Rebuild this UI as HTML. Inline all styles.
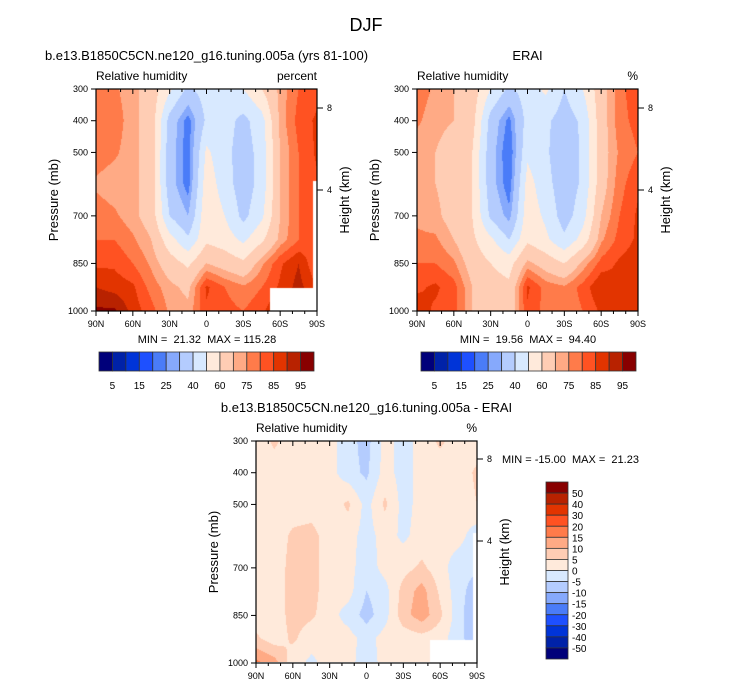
<!DOCTYPE html>
<html><head><meta charset="utf-8">
<style>
body{margin:0;background:#fff;width:733px;height:686px;overflow:hidden;position:relative;font-family:"Liberation Sans",sans-serif}
canvas{position:absolute}
svg{position:absolute;left:0;top:0}
text{white-space:pre}
</style></head>
<body>
<canvas id="c1" width="221" height="222" style="left:96px;top:89px"></canvas>
<canvas id="c2" width="221" height="222" style="left:417px;top:89px"></canvas>
<canvas id="c3" width="221" height="221" style="left:256px;top:441px"></canvas>
<svg id="s" width="733" height="686"></svg>
<script>
const lats=[90,75,60,45,30,15,0,-15,-30,-45,-60,-75,-90];
const levels=[300,400,500,600,700,775,850,925,1000];
const modelRH=[
[80,76,72,66,52,38,45,45,50,60,72,80,83],
[80,78,72,66,36,22,42,44,37,46,72,82,86],
[78,76,72,66,34,21.5,52,43,35,44,70,80,86],
[74,72,72,66,34,22,56,45,34,44,70,80,84],
[78,76,72,66,40,30,58,50,37,48,70,80,86],
[80,80,76,70,54,42,58,55,48,58,72,80,84],
[84,84,80,74,65,58,70,66,62,74,84,90,80],
[90,88,86,78,72,68,86,80,76,80,86,92,85],
[96,96,88,82,74,72,84,82,80,84,90,90,90]];
const eraiRH=[
[78,74,70,66,50,38,45,52,40,50,66,78,84],
[76,72,70,64,36,23,44,42,35,42,66,78,82],
[72,70,66,60,34,19.6,48,42,31,42,66,76,80],
[72,70,66,60,34,21,54,44,33,42,66,78,84],
[74,72,66,60,38,27,56,48,35,46,70,80,86],
[76,76,70,62,52,40,58,52,42,54,74,82,86],
[80,80,76,66,60,56,72,66,60,72,82,86,88],
[84,86,82,70,64,62,86,78,76,82,90,86,90],
[88,84,82,70,66,64,84,78,76,80,86,88,90]];
const diffRH=[
[2,6,2,2,2,-3,-7,2,-2,2,6,2,2],
[2,2,2,2,2,-3,-6,2,-2,2,2,2,6],
[2,2,2,2,2,6,-2,6,-2,2,2,2,5],
[2,2,6,7,2,2,-2,2,-1,2,2,2,-3],
[2,2,7,7,2,2,-3,2,3,6,2,-3,-4],
[2,2,7,7,2,2,-5,-2,7,12,4,-3,-8],
[2,2,7,6,2,-2,-7,-2,8,13,6,-3,-10],
[6,2,6,2,2,2,-2,2,2,3,2,-3,-10],
[16,12,2,-1,2,2,-3,2,2,2,2,2,2]];
const rhBounds=[5,10,15,20,25,30,40,50,60,70,75,80,85,90,95];
const rhLabels=["5","15","25","40","60","75","85","95"];
const dBounds=[-50,-40,-30,-20,-15,-10,-5,0,5,10,15,20,30,40,50];
const dLabels=["50","40","30","20","15","10","5","0","-5","-10","-15","-20","-30","-40","-50"];
const pTicks=[300,400,500,700,850,1000];
const latTicks=["90N","60N","30N","0","30S","60S","90S"];
const colors=["#00007a","#0022a8","#0034d8","#1e50ff","#4a7cf8","#86a9fc","#b4ccfe","#d8e9ff","#ffeadb","#ffcdb4","#ffaa85","#ff7b4a","#ff5222","#e23400","#b82200","#880000"];

function colorFor(v,b){let i=0;while(i<b.length&&v>=b[i])i++;return colors[i];}
function interp(data,lat,p){
  let fx=(90-lat)/15, i=Math.min(11,Math.floor(fx)), tx=fx-i;
  let j=0;while(j<levels.length-2&&p>levels[j+1])j++;
  let ty=(p-levels[j])/(levels[j+1]-levels[j]);
  const a=data[j][i],b=data[j][i+1],c=data[j+1][i],d=data[j+1][i+1];
  return (a*(1-tx)+b*tx)*(1-ty)+(c*(1-tx)+d*tx)*ty;
}
function drawField(id,data,bounds,missing){
  const cv=document.getElementById(id),ctx=cv.getContext('2d');
  const W=cv.width,H=cv.height;
  for(let y=0;y<H;y++)for(let x=0;x<W;x++){
    const lat=90-180*(x+0.5)/W,p=300+700*(y+0.5)/H;
    ctx.fillStyle=colorFor(interp(data,lat,p),bounds);ctx.fillRect(x,y,1,1);
  }
  if(missing){ctx.fillStyle="#fff";ctx.fillRect(174,199,47,23);ctx.fillRect(217,92,4,110);}
}
drawField('c1',modelRH,rhBounds,true);
drawField('c2',eraiRH,rhBounds,false);
drawField('c3',diffRH,dBounds,true);

const S=document.getElementById('s'),NS="http://www.w3.org/2000/svg";
function el(tag,attrs,txt){const e=document.createElementNS(NS,tag);for(const k in attrs)e.setAttribute(k,attrs[k]);if(txt!==undefined)e.textContent=txt;S.appendChild(e);return e;}
function T(x,y,s,t,anchor,name,rot){const a={x:x,y:y,'font-size':s,'text-anchor':anchor||'start',fill:'#000'};if(rot)a.transform=`rotate(-90 ${x} ${y})`;const e=el('text',a,t);return e;}

T(366,31,18,"DJF","middle","main-title");
function panel(x0,y0,title,unit,hx){
  const W=221,H=222;
  const xs=v=>x0+(90-v)/180*W, ys=p=>y0+(p-300)/700*H;
  const fr=el('rect',{x:x0,y:y0,width:W,height:H,fill:'none',stroke:'#000','stroke-width':1.2});
  
  T(x0+W/2,y0-29,13,title,"middle","panel-title");
  T(x0,y0-9,12,"Relative humidity","start","variable-label");
  T(x0+W,y0-9,12,unit,"end","units-label");
  pTicks.forEach(p=>{const y=ys(p);el('line',{x1:x0-5,x2:x0,y1:y,y2:y,stroke:'#000'});T(x0-8,y+3,9,p,"end","pressure-tick-label");});
  for(let v=90;v>=-90;v-=10){const x=xs(v),maj=v%30==0;
    el('line',{x1:x,x2:x,y1:y0+H,y2:y0+H+(maj?5:3),stroke:'#000'});
    el('line',{x1:x,x2:x,y1:y0,y2:y0+(maj?5:3),stroke:'#000'});}
  latTicks.forEach((t,i)=>T(xs(90-30*i),y0+H+16,9,t,"middle","latitude-tick-label"));
  [[8,hx[0]],[4,hx[1]]].forEach(([h,y])=>{el('line',{x1:x0+W,x2:x0+W+6,y1:y,y2:y,stroke:'#000'});T(x0+W+10,y+3,9,h,"start","height-tick-label");});
  T(x0-38,y0+H/2,13,"Pressure (mb)","middle","y-axis-title",true);
  T(x0+W+32,y0+H/2,13,"Height (km)","middle","height-axis-title",true);
}
panel(96,89,"b.e13.B1850C5CN.ne120_g16.tuning.005a (yrs 81-100)","percent",[108,190]);
panel(417,89,"ERAI","%",[108,190]);
panel(256,441,"b.e13.B1850C5CN.ne120_g16.tuning.005a - ERAI","%",[459,541]);
T(207,343,11,"MIN =  21.32  MAX = 115.28","middle","min-max-label");
T(528,343,11,"MIN =  19.56  MAX =  94.40","middle","min-max-label");
T(502,463,11,"MIN = -15.00  MAX =  21.23","start","min-max-label");

function hbar(x0){const w=215/16;
  colors.forEach((c,i)=>{const r=el('rect',{x:x0+i*w,y:352,width:w,height:19,fill:c,stroke:'#333','stroke-width':0.8});});
  rhLabels.forEach((t,i)=>T(x0+(2*i+1)*w,389,10,t,"middle","colorbar-label"));}
hbar(99);hbar(421);
(function(){const h=177/16,x0=546;
  colors.slice().reverse().forEach((c,i)=>{const r=el('rect',{x:x0,y:482+i*h,width:22,height:h,fill:c,stroke:'#333','stroke-width':0.8});});
  dLabels.forEach((t,i)=>T(572,482+(i+1)*h+4,10,t,"start","colorbar-label"));})();
</script>
</body></html>
